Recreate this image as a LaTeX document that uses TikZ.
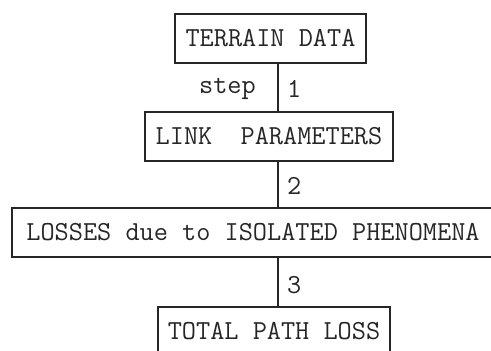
\documentclass[tikz,border=0pt]{standalone}
\usepackage{fontspec}
\begin{document}
\begin{tikzpicture}[x=1pt,y=-1pt,
  box/.style={draw=black!85, line width=1.6pt, minimum height=49pt, inner sep=0pt, font=\ttfamily\fontsize{27.5}{27.5}\selectfont, text=black!85},
  conn/.style={draw=black!85, line width=1.6pt},
  lbl/.style={font=\ttfamily\fontsize{27.5}{27.5}\selectfont, text=black!85, inner sep=0pt}]
\useasboundingbox (0,0) rectangle (491,351);
\clip (0,0) rectangle (491,351);
\node[box, minimum width=191pt] (terrain) at (270.5,38.5) {TERRAIN DATA};
\node[box, minimum width=248pt] (link) at (269,136.5) {LINK\ \ PARAMETERS};
\node[box, minimum width=490pt] (losses) at (257,232.5) {\hspace{-8pt}LOSSES due to ISOLATED PHENOMENA};
\node[box, minimum width=232pt] (total) at (274,331.5) {TOTAL PATH LOSS};
\coordinate (cx) at (278,0);
\draw[conn] (terrain.south -| cx) -- (link.north -| cx);
\draw[conn] (link.south -| cx) -- (losses.north -| cx);
\draw[conn] (losses.south -| cx) -- (total.north -| cx);
\node[lbl, anchor=east] (step) at (256,89) {step};
\node[lbl, anchor=west] (n1) at (287,89) {1};
\node[lbl, anchor=west] (n2) at (287,186) {2};
\node[lbl, anchor=west] (n3) at (287,285) {3};
\end{tikzpicture}
\end{document}
